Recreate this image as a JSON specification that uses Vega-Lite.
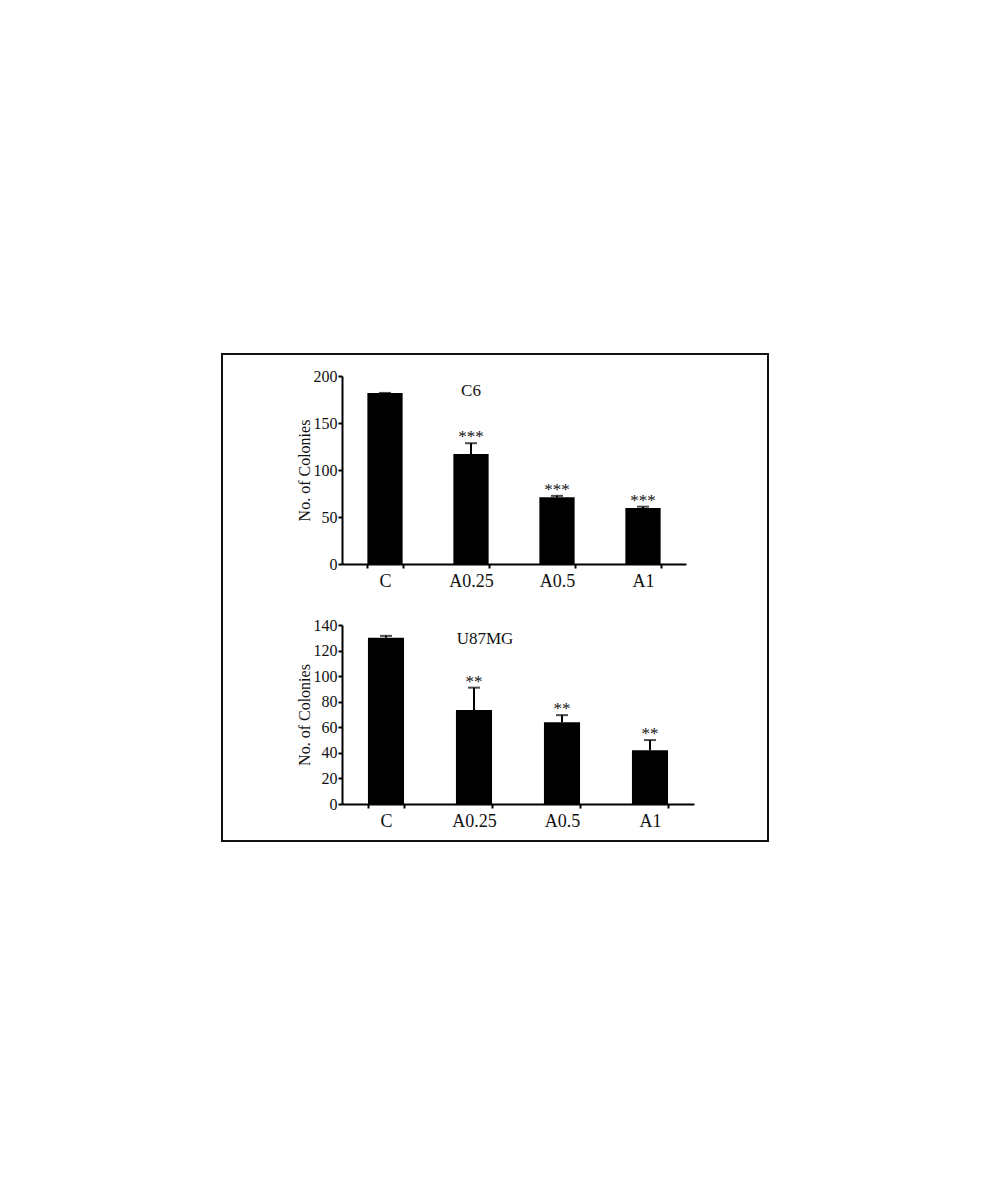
{
  "$schema": "https://vega.github.io/schema/vega-lite/v6.json",
  "width": 546,
  "height": 487,
  "autosize": {"type": "none"},
  "padding": {"left": 222, "top": 354, "right": 225, "bottom": 359},
  "background": "white",
  "config": {
    "view": {"stroke": "#111111", "strokeWidth": 2},
    "font": "Liberation Serif",
    "axis": {
      "grid": false,
      "domainColor": "black",
      "domainWidth": 2,
      "tickColor": "black",
      "tickWidth": 2,
      "tickSize": 4,
      "labelFont": "Liberation Serif",
      "labelColor": "#111111",
      "titleFont": "Liberation Serif",
      "titleColor": "#111111",
      "titleFontWeight": "normal"
    },
    "axisX": {"labelFontSize": 18, "labelPadding": 4, "labelAngle": 0, "tickBand": "extent", "title": null},
    "axisY": {"labelFontSize": 16, "labelPadding": 1, "titleFontSize": 16, "titlePadding": 1}
  },
  "datasets": {
    "c6": [
      {"group": "C", "value": 182, "upper": 182, "stars": ""},
      {"group": "A0.25", "value": 117, "upper": 128.5, "stars": "***"},
      {"group": "A0.5", "value": 71, "upper": 72.5, "stars": "***"},
      {"group": "A1", "value": 59.5, "upper": 61, "stars": "***"}
    ],
    "u87": [
      {"group": "C", "value": 130, "upper": 131.5, "stars": ""},
      {"group": "A0.25", "value": 73.5, "upper": 91, "stars": "**"},
      {"group": "A0.5", "value": 64, "upper": 69.5, "stars": "**"},
      {"group": "A1", "value": 42, "upper": 50, "stars": "**"}
    ]
  },
  "layer": [
    {
      "layer": [
        {
          "data": {"name": "c6"},
          "mark": {"type": "bar", "color": "black"},
          "encoding": {
            "x": {"field": "group", "type": "nominal", "sort": ["C", "A0.25", "A0.5", "A1"],
              "scale": {"range": [120, 464], "paddingInner": 0.59, "paddingOuter": 0.295},
              "axis": {"orient": "bottom", "offset": -277}},
            "y": {"field": "value", "type": "quantitative",
              "scale": {"domain": [0, 200], "range": [210, 22], "nice": false},
              "axis": {"orient": "left", "offset": -120, "values": [0, 50, 100, 150, 200], "title": "No. of Colonies"}}
          }
        },
        {
          "data": {"name": "c6"},
          "mark": {"type": "rule", "color": "black", "strokeWidth": 2},
          "encoding": {
            "x": {"field": "group", "type": "nominal", "sort": ["C", "A0.25", "A0.5", "A1"]},
            "y": {"field": "upper", "type": "quantitative"},
            "y2": {"field": "value"}
          }
        },
        {
          "data": {"name": "c6"},
          "mark": {"type": "tick", "color": "black", "thickness": 2, "size": 12},
          "encoding": {
            "x": {"field": "group", "type": "nominal", "sort": ["C", "A0.25", "A0.5", "A1"]},
            "y": {"field": "upper", "type": "quantitative"}
          }
        },
        {
          "data": {"name": "c6"},
          "mark": {"type": "text", "baseline": "alphabetic", "dy": -1, "fontSize": 17, "color": "#111111"},
          "encoding": {
            "x": {"field": "group", "type": "nominal", "sort": ["C", "A0.25", "A0.5", "A1"]},
            "y": {"field": "upper", "type": "quantitative"},
            "text": {"field": "stars"}
          }
        },
        {
          "data": {"values": [{"panel": "C6"}]},
          "mark": {"type": "text", "baseline": "alphabetic", "fontSize": 17, "color": "#111111"},
          "encoding": {
            "x": {"datum": "A0.25", "type": "nominal"},
            "y": {"datum": 179, "type": "quantitative"},
            "text": {"field": "panel"}
          }
        }
      ]
    },
    {
      "layer": [
        {
          "data": {"name": "u87"},
          "mark": {"type": "bar", "color": "black"},
          "encoding": {
            "x": {"field": "group", "type": "nominal", "sort": ["C", "A0.25", "A0.5", "A1"],
              "scale": {"range": [120, 472], "paddingInner": 0.59, "paddingOuter": 0.295},
              "axis": {"orient": "bottom", "offset": -37}},
            "y": {"field": "value", "type": "quantitative",
              "scale": {"domain": [0, 140], "range": [450, 271], "nice": false},
              "axis": {"orient": "left", "offset": -120, "values": [0, 20, 40, 60, 80, 100, 120, 140], "title": "No. of Colonies"}}
          }
        },
        {
          "data": {"name": "u87"},
          "mark": {"type": "rule", "color": "black", "strokeWidth": 2},
          "encoding": {
            "x": {"field": "group", "type": "nominal", "sort": ["C", "A0.25", "A0.5", "A1"]},
            "y": {"field": "upper", "type": "quantitative"},
            "y2": {"field": "value"}
          }
        },
        {
          "data": {"name": "u87"},
          "mark": {"type": "tick", "color": "black", "thickness": 2, "size": 12},
          "encoding": {
            "x": {"field": "group", "type": "nominal", "sort": ["C", "A0.25", "A0.5", "A1"]},
            "y": {"field": "upper", "type": "quantitative"}
          }
        },
        {
          "data": {"name": "u87"},
          "mark": {"type": "text", "baseline": "alphabetic", "dy": -1, "fontSize": 17, "color": "#111111"},
          "encoding": {
            "x": {"field": "group", "type": "nominal", "sort": ["C", "A0.25", "A0.5", "A1"]},
            "y": {"field": "upper", "type": "quantitative"},
            "text": {"field": "stars"}
          }
        },
        {
          "data": {"values": [{"panel": "U87MG"}]},
          "mark": {"type": "text", "baseline": "alphabetic", "fontSize": 17, "dx": 11, "color": "#111111"},
          "encoding": {
            "x": {"datum": "A0.25", "type": "nominal"},
            "y": {"datum": 125, "type": "quantitative"},
            "text": {"field": "panel"}
          }
        }
      ]
    }
  ],
  "resolve": {
    "scale": {"x": "independent", "y": "independent"},
    "axis": {"x": "independent", "y": "independent"}
  }
}
